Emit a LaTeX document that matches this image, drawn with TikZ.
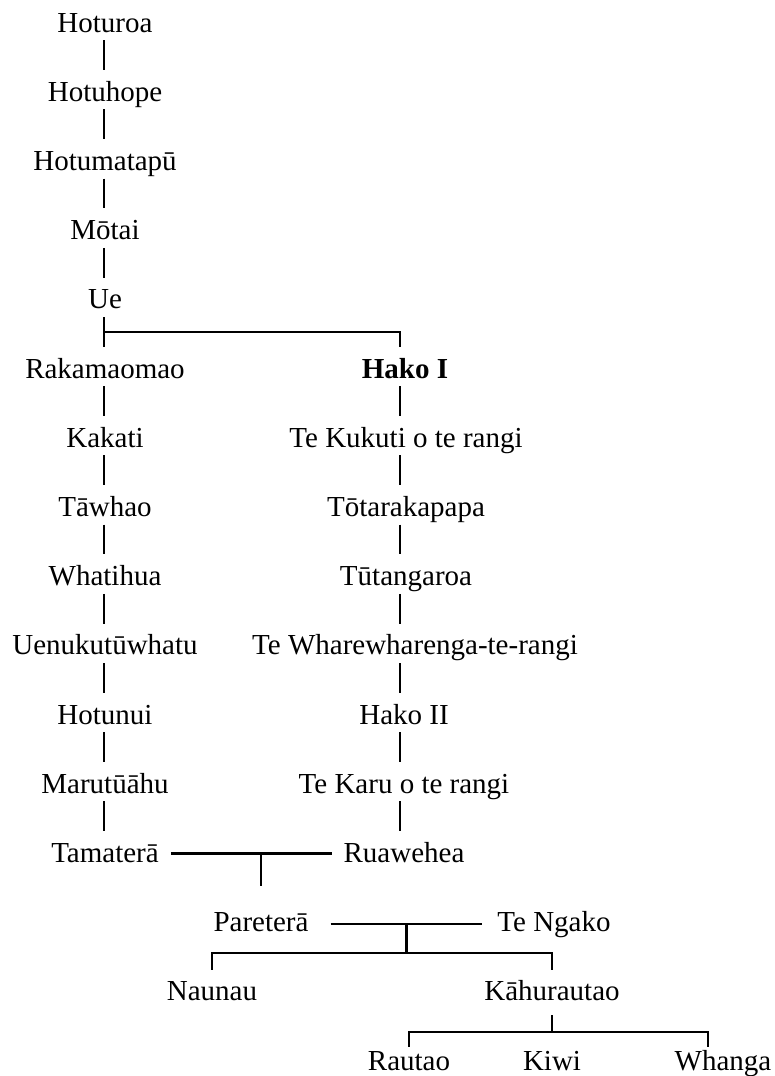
\documentclass[tikz,border=0pt]{standalone}
\usepackage{fontspec}
\setmainfont{Liberation Serif}
\usetikzlibrary{calc}
\tikzset{
  person/.style={anchor=base, inner sep=0pt, text height=31pt, text depth=8pt,
    font=\fontsize{29}{33}\selectfont},
  link/.style={line width=2.2pt},
}
\begin{document}
\begin{tikzpicture}[x=1pt, y=-1pt]
    \useasboundingbox (0,0) rectangle (775,1076);
    \coordinate (colL) at (104,0);
    \coordinate (colR) at (400,0);
    % line of Hoturoa down to Tamatera
    \foreach \n/\lab [count=\k from 0] in {hoturoa/Hoturoa, hotuhope/Hotuhope,
        hotumatapu/Hotumatapū, motai/Mōtai, ue/Ue, rakamaomao/Rakamaomao,
        kakati/Kakati, tawhao/Tāwhao, whatihua/Whatihua,
        uenukutuwhatu/Uenukutūwhatu, hotunui/Hotunui, marutuahu/Marutūāhu,
        tamatera/Tamaterā} {
      \node[person] (\n) at (105,{32+69.2*\k}) {\lab};
    }
    % line of Hako I down to Ruawehea
    \foreach \n/\x/\lab [count=\k from 5] in {hakoI/405/{\bfseries Hako I},
        tekukuti/406/{Te Kukuti o te rangi}, totarakapapa/406/Tōtarakapapa,
        tutangaroa/406/Tūtangaroa, wharewharenga/415/{Te Wharewharenga-te-rangi},
        hakoII/404/{Hako II}, tekaru/404/{Te Karu o te rangi},
        ruawehea/404/Ruawehea} {
      \node[person] (\n) at (\x,{32+69.2*\k}) {\lab};
    }
    \node[person] (paretera) at (261,931.6) {Pareterā};
    \node[person] (tengako) at (554,931.6) {Te Ngako};
    \node[person] (naunau) at (212,1000.8) {Naunau};
    \node[person] (kahurautao) at (552,1000.8) {Kāhurautao};
    \node[person] (rautao) at (409,1070) {Rautao};
    \node[person] (kiwi) at (552,1070) {Kiwi};
    \node[person] (whanga) at (723,1070) {Whanga};

    \foreach \a/\b in {hoturoa/hotuhope, hotuhope/hotumatapu, hotumatapu/motai,
        motai/ue, ue/rakamaomao, rakamaomao/kakati, kakati/tawhao,
        tawhao/whatihua, whatihua/uenukutuwhatu, uenukutuwhatu/hotunui,
        hotunui/marutuahu, marutuahu/tamatera} {
      \draw[link] (\a.south -| colL) -- (\b.north -| colL);
    }
    \foreach \a/\b in {hakoI/tekukuti, tekukuti/totarakapapa,
        totarakapapa/tutangaroa, tutangaroa/wharewharenga,
        wharewharenga/hakoII, hakoII/tekaru, tekaru/ruawehea} {
      \draw[link] (\a.south -| colR) -- (\b.north -| colR);
    }
    \coordinate (uefork) at ($(ue.south -| colL)!0.5!(rakamaomao.north -| colL)$);
    \draw[link] (uefork) -| (hakoI.north -| colR);

    % marriages and children
    \draw[link] ([xshift=12pt,yshift=9pt]tamatera.base east) coordinate (tr)
      -- ([xshift=-11pt,yshift=9pt]ruawehea.base west);
    \draw[link, shorten >=14pt] (paretera.north |- tr) -- (paretera.north);
    \draw[link] ([xshift=22pt,yshift=8pt]paretera.base east)
      -- coordinate[midway] (pt) ([xshift=-15pt,yshift=8pt]tengako.base west);
    \draw[link] (naunau.north) -- ++(0,-17) coordinate (nb) -| (kahurautao.north);
    \draw[link] (pt) -- (pt |- nb);
    \draw[link] ([yshift=-8pt]rautao.north) -- ++(0,-15)
      -| ([xshift=-15pt,yshift=-8pt]whanga.north);
    \draw[link, shorten <=6pt, shorten >=8pt] (kahurautao.south) -- (kiwi.north);
  \end{tikzpicture}
\end{document}
